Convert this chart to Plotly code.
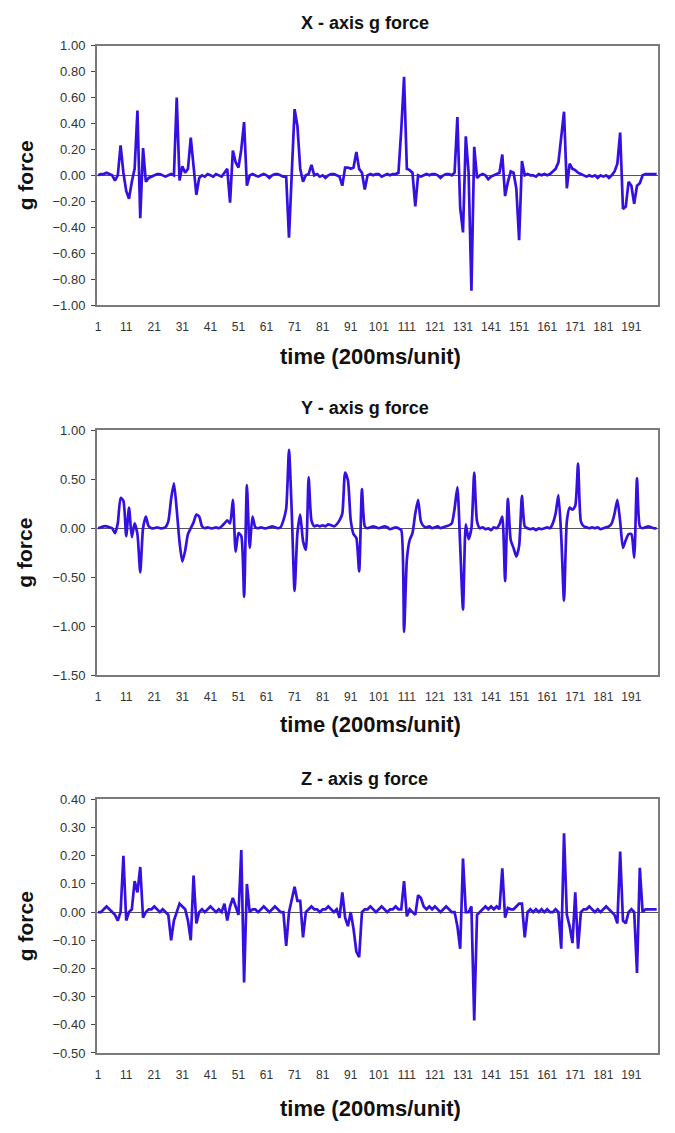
import plotly.graph_objects as go

time_units = list(range(1, 201))
tick_labels = [str(v) for v in range(1, 200, 10)]

x_axis_g = [
    0.00, 0.01, 0.01, 0.02, 0.01, 0.00, -0.04, 0.00, 0.23, 0.02,
    -0.12, -0.18, -0.05, 0.05, 0.50, -0.33, 0.21, -0.05, -0.02, -0.01,
    0.00, 0.01, 0.01, 0.00, -0.01, 0.00, 0.01, 0.00, 0.60, -0.04,
    0.07, 0.02, 0.05, 0.29, 0.05, -0.15, -0.02, 0.00, -0.01, 0.01,
    0.00, -0.01, 0.01, 0.00, -0.01, 0.02, 0.05, -0.21, 0.19, 0.10,
    0.06, 0.20, 0.41, -0.08, 0.00, 0.01, 0.00, -0.01, 0.00, 0.01,
    0.00, -0.02, 0.00, 0.01, 0.01, 0.00, -0.01, -0.01, -0.48, 0.02,
    0.51, 0.38, 0.05, -0.05, 0.00, 0.01, 0.08, 0.00, 0.01, -0.01,
    0.00, -0.02, 0.00, 0.01, 0.01, 0.00, -0.01, -0.08, 0.06, 0.06,
    0.05, 0.06, 0.18, 0.05, 0.02, -0.11, 0.00, 0.01, 0.00, 0.01,
    0.01, -0.01, 0.00, 0.01, 0.00, 0.01, 0.01, 0.02, 0.35, 0.76,
    0.05, 0.04, 0.02, -0.24, 0.00, -0.01, 0.00, 0.01, 0.00, 0.01,
    0.01, 0.00, -0.02, 0.00, 0.01, 0.01, 0.00, 0.02, 0.45, -0.25,
    -0.44, 0.30, 0.02, -0.89, 0.22, -0.02, 0.00, 0.01, 0.00, -0.03,
    -0.01, 0.00, 0.01, 0.02, 0.16, -0.16, -0.05, 0.03, 0.02, -0.10,
    -0.50, 0.11, 0.00, 0.01, 0.00, 0.00, -0.01, 0.01, 0.00, 0.01,
    0.00, 0.01, 0.03, 0.05, 0.10, 0.30, 0.49, -0.10, 0.09, 0.05,
    0.04, 0.02, 0.01, 0.00, -0.01, 0.00, -0.01, 0.00, -0.02, 0.00,
    -0.01, 0.00, -0.02, 0.00, 0.03, 0.09, 0.33, -0.26, -0.24, -0.05,
    -0.08, -0.22, -0.08, -0.06, 0.00, 0.01, 0.01, 0.01, 0.01, 0.01,
]

y_axis_g = [
    0.00, 0.01, 0.02, 0.02, 0.01, 0.00, -0.05, 0.05, 0.31, 0.28,
    -0.08, 0.21, -0.09, 0.05, -0.06, -0.45, 0.00, 0.12, 0.02, 0.00,
    0.00, 0.01, 0.00, 0.00, 0.01, 0.07, 0.30, 0.46, 0.19, -0.14,
    -0.34, -0.23, -0.06, 0.00, 0.06, 0.14, 0.12, 0.02, 0.00, 0.01,
    0.00, 0.00, 0.01, 0.00, 0.02, 0.05, 0.08, 0.05, 0.29, -0.24,
    -0.05, -0.08, -0.70, 0.44, -0.20, 0.12, 0.01, 0.00, 0.01, 0.00,
    0.00, 0.01, 0.02, 0.01, 0.00, 0.01, 0.08, 0.20, 0.80, 0.15,
    -0.64, -0.05, 0.14, -0.13, -0.22, 0.52, 0.08, 0.02, 0.03, 0.02,
    0.03, 0.02, 0.04, 0.03, 0.02, 0.04, 0.08, 0.15, 0.57, 0.49,
    0.08, -0.06, -0.10, -0.44, 0.40, 0.02, 0.00, 0.01, 0.02, 0.01,
    0.00, 0.01, 0.02, 0.01, -0.01, 0.00, 0.01, 0.00, -0.02, -1.06,
    -0.32, -0.12, -0.05, 0.15, 0.29, 0.07, 0.02, 0.01, 0.02, 0.00,
    0.01, 0.02, 0.00, 0.01, 0.02, 0.03, 0.05, 0.20, 0.42, -0.18,
    -0.83, 0.04, -0.11, 0.00, 0.57, 0.07, 0.00, 0.01, -0.01, 0.00,
    -0.02, 0.01, 0.00, 0.04, 0.12, -0.54, 0.30, -0.12, -0.20, -0.29,
    -0.18, 0.33, 0.02, 0.00, -0.01, 0.00, -0.02, 0.00, -0.01, 0.00,
    0.01, 0.00, 0.05, 0.15, 0.34, -0.08, -0.74, 0.07, 0.21, 0.19,
    0.23, 0.66, 0.07, 0.02, 0.01, 0.00, 0.01, 0.00, 0.01, -0.01,
    0.00, 0.01, 0.02, 0.05, 0.15, 0.29, 0.07, -0.20, -0.12, -0.06,
    -0.06, -0.30, 0.51, 0.02, 0.00, 0.01, 0.02, 0.01, 0.00, 0.00,
]

z_axis_g = [
    0.00, 0.00, 0.01, 0.02, 0.01, 0.00, -0.01, -0.03, 0.00, 0.20,
    -0.03, 0.00, 0.01, 0.11, 0.07, 0.16, -0.02, 0.00, 0.01, 0.01,
    0.02, 0.01, 0.00, 0.01, 0.00, -0.01, -0.10, -0.03, 0.00, 0.03,
    0.02, 0.01, -0.03, -0.10, 0.13, -0.04, 0.00, 0.01, 0.00, 0.01,
    0.02, 0.01, 0.00, 0.01, 0.00, 0.03, -0.03, 0.02, 0.05, 0.02,
    -0.01, 0.22, -0.25, 0.10, 0.00, 0.01, 0.01, 0.00, 0.01, 0.02,
    0.01, 0.00, 0.01, 0.02, 0.01, 0.00, 0.00, -0.12, 0.00, 0.04,
    0.09, 0.04, 0.04, -0.09, 0.00, 0.01, 0.02, 0.01, 0.01, 0.00,
    0.01, 0.01, 0.02, 0.01, 0.00, 0.01, -0.02, 0.07, -0.02, -0.05,
    0.00, -0.06, -0.14, -0.16, 0.00, 0.01, 0.01, 0.02, 0.01, 0.00,
    0.01, 0.02, 0.01, 0.00, 0.01, 0.01, 0.02, 0.01, 0.01, 0.11,
    -0.015, 0.01, 0.00, -0.01, 0.06, 0.05, 0.02, 0.01, 0.02, 0.01,
    0.02, 0.01, 0.00, 0.01, 0.02, 0.01, 0.00, 0.00, -0.05, -0.13,
    0.19, 0.00, 0.00, 0.02, -0.385, -0.01, 0.00, 0.01, 0.02, 0.01,
    0.02, 0.01, 0.02, 0.01, 0.155, -0.02, 0.015, 0.01, 0.01, 0.02,
    0.03, 0.03, -0.09, 0.00, 0.01, 0.00, 0.01, 0.00, 0.01, 0.00,
    0.01, 0.00, 0.00, 0.01, 0.00, -0.13, 0.28, -0.01, -0.05, -0.11,
    0.07, -0.13, 0.00, 0.01, 0.01, 0.02, 0.01, 0.00, 0.01, 0.00,
    0.01, 0.02, 0.01, 0.00, -0.01, -0.04, 0.215, -0.03, -0.04, 0.00,
    0.01, 0.00, -0.216, 0.157, 0.00, 0.01, 0.01, 0.01, 0.01, 0.01,
]

titles = ["X - axis g force", "Y - axis g force", "Z - axis g force"]
y_ranges = [(-1.0, 1.0), (-1.5, 1.0), (-0.5, 0.4)]
y_dticks = [0.2, 0.5, 0.1]
series = [x_axis_g, y_axis_g, z_axis_g]
shapes_line = ["linear", "spline", "linear"]

# page has an 8px body margin: figure is drawn at (8, 8)
OFF = 8
W, H = 675 - OFF, 1133 - OFF
FONT = "Liberation Sans Narrow, Liberation Sans, Arial, sans-serif"
LINE_COLOR = "#3510e0"


def px(p):
    return (p - OFF) / W


def py(p):
    return 1 - (p - OFF) / H


# screen pixel boxes of the plot areas (top, bottom)
boxes = [(39, 302), (429, 677), (803, 1060)]
x_left, x_right = 95, 658
title_y = [16, 406, 782]
xtitle_y = [354, 727, 1116]

fig = go.Figure()
annotations = []
for k in range(3):
    sfx = "" if k == 0 else str(k + 1)
    top, bot = boxes[k]
    fig.add_trace(go.Scatter(
        x=time_units, y=series[k], mode="lines",
        line=dict(color=LINE_COLOR, width=2.7, shape=shapes_line[k], smoothing=0.6),
        xaxis="x" + sfx, yaxis="y" + sfx, showlegend=False,
    ))
    fig.layout["xaxis" + sfx] = dict(
        domain=[px(x_left), px(x_right)], anchor="y" + sfx,
        range=[0.5, 200.5], tickmode="array",
        tickvals=list(range(1, 200, 10)), ticktext=tick_labels,
        showgrid=False, zeroline=False, showline=True, mirror=True,
        linecolor="#7a7a7a", linewidth=1.5, ticks="",
        tickfont=dict(family=FONT, size=12, color="#333"),
        ticklabelstandoff=10,
    )
    lo, hi = y_ranges[k]
    fig.layout["yaxis" + sfx] = dict(
        domain=[py(bot), py(top)], anchor="x" + sfx,
        range=[lo, hi], dtick=y_dticks[k], tick0=0, tickformat=".2f",
        showgrid=False, zeroline=True, zerolinecolor="#555", zerolinewidth=1.2,
        showline=True, mirror=True, linecolor="#7a7a7a", linewidth=1.5,
        ticks="outside", ticklen=4, tickcolor="#444",
        tickfont=dict(family=FONT, size=13, color="#333"),
        ticklabelstandoff=3,
    )
    annotations.append(dict(
        text="<b>" + titles[k] + "</b>", x=px(364), y=py(title_y[k]),
        xref="paper", yref="paper", showarrow=False, xanchor="center", yanchor="middle",
        font=dict(family=FONT, size=18, color="#111"),
    ))
    annotations.append(dict(
        text="<b>time (200ms/unit)</b>", x=px(370), y=py(xtitle_y[k]),
        xref="paper", yref="paper", showarrow=False, xanchor="center", yanchor="middle",
        font=dict(family=FONT, size=22, color="#111"),
    ))
    annotations.append(dict(
        text="<b>g force</b>", x=px(23), y=py((top + bot) / 2),
        xref="paper", yref="paper", showarrow=False, textangle=-90,
        xanchor="center", yanchor="middle", borderpad=0,
        font=dict(family=FONT, size=21, color="#111"),
    ))

fig.update_layout(
    width=W, height=H, margin=dict(l=0, r=0, t=0, b=0),
    paper_bgcolor="white", plot_bgcolor="white",
    annotations=annotations,
)

fig.write_html("out.html")
